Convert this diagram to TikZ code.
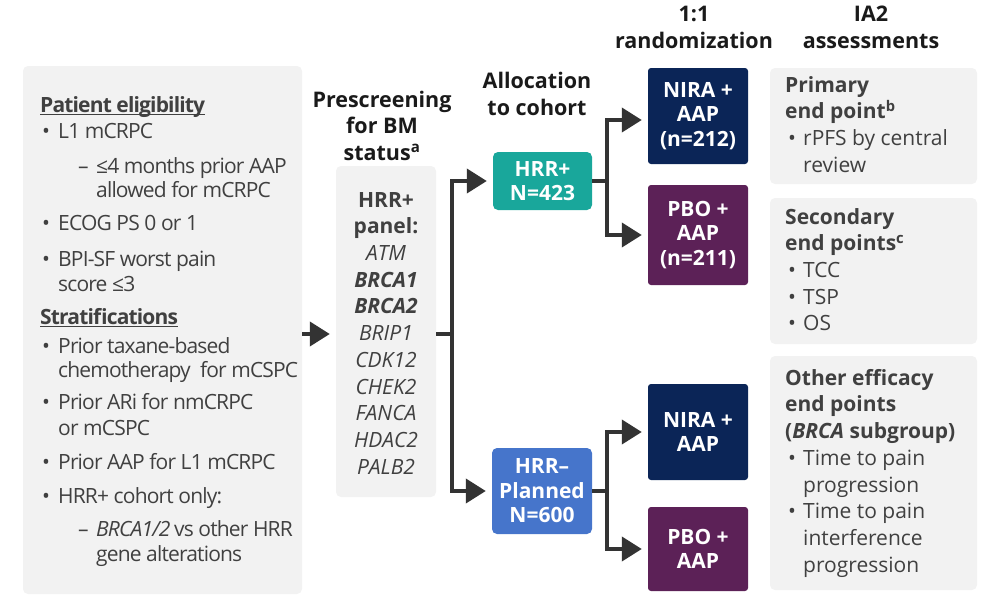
\documentclass[tikz,border=0pt]{standalone}
\usepackage{fontspec}
\setmainfont{Open Sans}
\newfontfamily\tightfont{Open Sans}[LetterSpace=-4]
\usetikzlibrary{arrows.meta,positioning}

\definecolor{boxgray}{HTML}{F2F2F2}
\definecolor{txtgray}{HTML}{404040}
\definecolor{headblack}{HTML}{1A1A1A}
\definecolor{arrgray}{HTML}{333333}
\definecolor{hrrteal}{HTML}{19A79B}
\definecolor{hrrblue}{HTML}{4675CB}
\definecolor{niranavy}{HTML}{0B2557}
\definecolor{pboplum}{HTML}{5C2157}

\newcommand{\bul}{\hspace*{2pt}\makebox[16pt][l]{\textbullet}}
\newcommand{\subdash}{\hspace*{38pt}\makebox[18pt][l]{–}}
\newcommand{\rbul}{\hspace*{3pt}\makebox[15pt][l]{\textbullet}}
\newcommand{\hang}[1]{\hspace*{#1pt}}
\newcommand{\headul}[1]{\setbox0=\hbox{#1}\rlap{\rule[-3pt]{\wd0}{1.6pt}}\box0}

\begin{document}
\begin{tikzpicture}[x=1pt,y=-1pt]
\tikzstyle{panel} = [fill=boxgray, rounded corners=5pt, inner sep=0pt]
\tikzstyle{txt} = [inner sep=0pt, text=txtgray, font=\fontsize{21}{24.5}\selectfont]
\tikzstyle{head} = [inner sep=0pt, text=headblack, align=center, font=\fontsize{21.5}{26.5}\selectfont\bfseries]
\tikzstyle{arm} = [rounded corners=5pt, inner sep=0pt, text=white, align=center, font=\fontsize{21}{24.5}\selectfont\bfseries]
\tikzstyle{conn} = [draw=arrgray, line width=4pt]
\tikzstyle{arr} = [conn, -{Triangle[length=20pt,width=24pt]}, shorten >=6pt]

\useasboundingbox (0,0) rectangle (994,611);

% column headings (base = last line)
\node[head, anchor=base] (bmhead) at (382,160) {Prescreening\\for BM\\status\textsuperscript{a}};
\node[head, anchor=base] (cohead) at (537,115) {Allocation\\to cohort};
\node[head, anchor=base] (rnhead) at (694,48) {1:1\\randomization};
\node[head, anchor=base] (iahead) at (871,48) {IA2\\assessments};

% eligibility box
\node[panel, minimum width=279pt, minimum height=528pt] (elig) at (162.5,330) {};
\node[txt, align=left, anchor=north west, font=\fontsize{21}{24.5}\selectfont\tightfont] (eligtxt) at (40,96) {%
\textbf{\headul{Patient eligibility}}\\[1.5pt]
\bul L1 mCRPC\\[10.5pt]
\subdash ≤4 months prior AAP\\
\hang{56}allowed for mCRPC\\[8.5pt]
\bul ECOG PS 0 or 1\\[11.5pt]
\bul BPI-SF worst pain\\
\hang{18}score ≤3\\[8.5pt]
\textbf{\headul{Stratifications}}\\[4.5pt]
\bul Prior taxane-based\\
\hang{18}chemotherapy \ for mCSPC\\[7.5pt]
\bul Prior ARi for nmCRPC\\[1.5pt]
\hang{18}or mCSPC\\[9.5pt]
\bul Prior AAP for L1 mCRPC\\[9.5pt]
\bul HRR+ cohort only:\\[8.5pt]
\subdash \textit{BRCA1/2} vs other HRR\\
\hang{56}gene alterations};

% biomarker panel
\node[panel, minimum width=100pt, minimum height=331pt] (bmbox) at (386,331.5) {};
\node[txt, align=center, anchor=north, font=\fontsize{21}{26.7}\selectfont] (genes) at (386,192) {%
\textbf{HRR+}\\ \textbf{panel:}\\ \textit{ATM}\\ \textbf{\textit{BRCA1}}\\ \textbf{\textit{BRCA2}}\\
\textit{BRIP1}\\ \textit{CDK12}\\ \textit{CHEK2}\\ \textit{FANCA}\\ \textit{HDAC2}\\ \textit{PALB2}};

% cohorts
\node[arm, fill=hrrteal, minimum width=99pt, minimum height=58pt] (hrrp) at (542.5,181) {HRR+\\N=423};
\node[arm, fill=hrrblue, minimum width=100pt, minimum height=86pt] (hrrn) at (542,491) {HRR–\\Planned\\N=600};

% randomized arms
\node[arm, rounded corners=3pt, fill=niranavy, minimum width=100pt, minimum height=96pt] (nira1) at (698,116) {NIRA +\\AAP\\(n=212)};
\node[arm, rounded corners=3pt, fill=pboplum, minimum width=100pt, minimum height=100pt] (pbo1) at (698,235) {PBO +\\AAP\\(n=211)};
\node[arm, rounded corners=3pt, fill=niranavy, minimum width=100pt, minimum height=96pt] (nira2) at (698,432) {NIRA +\\AAP};
\node[arm, rounded corners=3pt, fill=pboplum, minimum width=100pt, minimum height=84pt] (pbo2) at (698,549) {PBO +\\AAP};

% assessments
\node[panel, minimum width=207pt, minimum height=116pt] (prim) at (873.5,126) {};
\node[panel, minimum width=207pt, minimum height=146pt] (sec) at (873.5,271) {};
\node[panel, minimum width=207pt, minimum height=234pt] (other) at (873.5,473) {};
\node[txt, align=left, anchor=north west, font=\fontsize{21}{26.7}\selectfont] (primtxt) at (785,76) {%
\textbf{Primary}\\ \textbf{end point\textsuperscript{b}}\\ \rbul rPFS by central\\ \hang{18}review};
\node[txt, align=left, anchor=north west, font=\fontsize{21}{26.7}\selectfont] (sectxt) at (785,208) {%
\textbf{Secondary}\\ \textbf{end points\textsuperscript{c}}\\ \rbul TCC\\ \rbul TSP\\ \rbul OS};
\node[txt, align=left, anchor=north west, font=\fontsize{21}{26.7}\selectfont] (othertxt) at (785,369) {%
\textbf{Other efficacy}\\ \textbf{end points}\\ \textbf{(\textit{BRCA} subgroup)}\\ \rbul Time to pain\\ \hang{18}progression\\
\rbul Time to pain\\ \hang{18}interference\\ \hang{18}progression};

% connectors
\coordinate (split1) at (452,334);
\coordinate (split2) at (607,181);
\coordinate (split3) at (607,491);
\draw[arr] (elig.east |- split1) -- (bmbox.west |- split1);
\draw[conn] (bmbox.east |- split1) -- (split1);
\draw[arr] ([yshift=-2pt]split1) |- (hrrp.west);
\draw[arr] ([yshift=2pt]split1) |- (hrrn.west);
\draw[conn] (hrrp.east) -- (split2);
\draw[arr] ([yshift=-2pt]split2) |- ([yshift=-4pt]nira1.west);
\draw[arr] ([yshift=2pt]split2) |- (pbo1.west);
\draw[conn] (hrrn.east) -- (split3);
\draw[arr] ([yshift=-2pt]split3) |- (nira2.west);
\draw[arr] ([yshift=2pt]split3) |- (pbo2.west);
\end{tikzpicture}
\end{document}
